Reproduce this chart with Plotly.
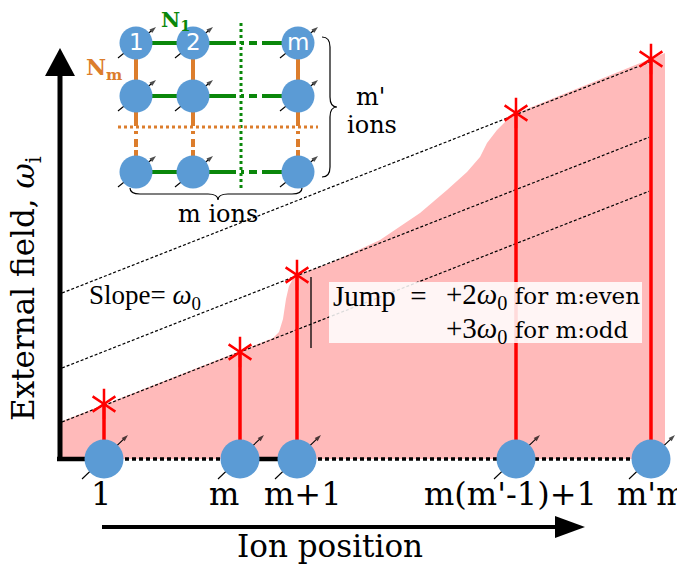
import plotly.graph_objects as go

# ---------------- data (chart units: x = ion position, y = external field) ----------------
ion_labels = ["1", "m", "m+1", "m(m'-1)+1", "m'm"]
ion_x = [104, 240, 297, 516, 651]
label_x = [101, 224, 303, 510, 651]
field = [55, 107, 184, 346, 400]

# envelope of the shaded region
edge_x = [60, 273, 279, 283, 286, 289, 293, 297, 330, 380, 420, 447, 467, 480, 487, 497, 508, 517, 651, 665]
edge_y = [37, 121, 127, 140, 160, 173, 180, 184, 196, 219, 246, 269, 287, 302, 316, 329, 340, 346, 400, 406]

# parallel guide lines with slope omega_0
slope_w0 = 0.393
guide_offsets = [37, 91, 166]
guide_x0 = 62
guide_x1 = [649, 649, 651]

# inset lattice
col_x = [136, 193, 298]
row_y = [416, 363, 287]
top_labels = ["1", "2", "m"]

BLUE = "#5b9bd5"
PINK = "#ffbaba"
RED = "#ff0000"
GREEN = "#0a870a"
ORANGE = "#dc7d2c"
SERIF = "DejaVu Serif"
CM = "Liberation Serif"

fig = go.Figure()

# shaded region
fig.add_trace(go.Scatter(x=[60] + edge_x + [665], y=[0] + edge_y + [0], fill="toself",
                         fillcolor=PINK, line=dict(width=0), mode="lines", hoverinfo="skip"))

# guide lines
for off, x1 in zip(guide_offsets, guide_x1):
    fig.add_trace(go.Scatter(x=[guide_x0, x1], y=[off, off + slope_w0 * (x1 - guide_x0)],
                             mode="lines", line=dict(color="black", width=1.2, dash="3px,2px")))

# axes lines
fig.add_trace(go.Scatter(x=[60, 60], y=[-2, 390], mode="lines", line=dict(color="black", width=5)))
fig.add_trace(go.Scatter(x=[57, ion_x[0], None, ion_x[1], ion_x[2]], y=[0, 0, None, 0, 0],
                         mode="lines", line=dict(color="black", width=4.5)))
fig.add_trace(go.Scatter(x=[ion_x[0], ion_x[1], None, ion_x[2], ion_x[4]], y=[0, 0, None, 0, 0],
                         mode="lines", line=dict(color="black", width=3.5, dash="4px,3px")))

# stems
sx, sy = [], []
for x, f in zip(ion_x, field):
    sx += [x, x, None]
    sy += [0, f, None]
fig.add_trace(go.Scatter(x=sx, y=sy, mode="lines", line=dict(color=RED, width=3.5)))


def spins(xs, ys, dxa, dya, dxb, dyb):
    ax_, ay_, sz = [], [], []
    for x, y in zip(xs, ys):
        ax_ += [x + dxa, x + dxb, None]
        ay_ += [y + dya, y + dyb, None]
        sz += [0, 7, 0]
    fig.add_trace(go.Scatter(x=ax_, y=ay_, mode="lines+markers", line=dict(color="black", width=1.1),
                             marker=dict(symbol="arrow", size=sz, color="black", angleref="previous",
                                         line=dict(width=0))))


# axis ions
spins(ion_x, [0] * len(ion_x), -22, -20, 24, 24)
fig.add_trace(go.Scatter(x=ion_x, y=[0] * len(ion_x), mode="markers",
                         marker=dict(size=39, color=BLUE, line=dict(width=0))))

# stars
for sym in ["y-up-open", "y-down-open"]:
    fig.add_trace(go.Scatter(x=ion_x, y=field, mode="markers",
                             marker=dict(symbol=sym, size=19, color=RED, line=dict(color=RED, width=2.5))))

# ---------------- inset lattice ----------------
fig.add_trace(go.Scatter(x=[241, 241], y=[436, 271], mode="lines",
                         line=dict(color=GREEN, width=3, dash="3px,3px")))
fig.add_trace(go.Scatter(x=[118, 318], y=[332, 332], mode="lines",
                         line=dict(color=ORANGE, width=3, dash="3px,3px")))

gx_s, gy_s, gx_d, gy_d = [], [], [], []
for y in row_y:
    gx_s += [col_x[0], 228, None, 263, col_x[2], None]
    gy_s += [y, y, None, y, y, None]
    gx_d += [228, 263, None]
    gy_d += [y, y, None]
fig.add_trace(go.Scatter(x=gx_s, y=gy_s, mode="lines", line=dict(color=GREEN, width=4)))
fig.add_trace(go.Scatter(x=gx_d, y=gy_d, mode="lines", line=dict(color=GREEN, width=4, dash="8px,5px,3px,5px")))

ox_s, oy_s, ox_d, oy_d = [], [], [], []
for x in col_x:
    ox_s += [x, x, None, x, x, None]
    oy_s += [row_y[0], 341, None, 309, row_y[2], None]
    ox_d += [x, x, None]
    oy_d += [341, 309, None]
fig.add_trace(go.Scatter(x=ox_s, y=oy_s, mode="lines", line=dict(color=ORANGE, width=4)))
fig.add_trace(go.Scatter(x=ox_d, y=oy_d, mode="lines", line=dict(color=ORANGE, width=4, dash="8px,5px,3px,5px")))

lx = [x for y in row_y for x in col_x]
ly = [y for y in row_y for x in col_x]
spins(lx, ly, -18, -15, 20, 16)
fig.add_trace(go.Scatter(x=lx, y=ly, mode="markers", marker=dict(size=33, color=BLUE, line=dict(width=0))))

annotations = []


def txt(x, y, s, size, color="black", family=SERIF, **kw):
    annotations.append(dict(x=x, y=y, xref="x", yref="y", text=s, showarrow=False,
                            font=dict(size=size, color=color, family=family), **kw))


for x, s in zip(col_x, top_labels):
    txt(x, row_y[0] + 1, s, 23, "white", "DejaVu Sans")

txt(175, 439, "<b>N<sub>1</sub></b>", 21, GREEN)
txt(104, 390, "<b>N<sub>m</sub></b>", 22, ORANGE)
txt(370, 362, "m'", 24)
txt(372, 334, "ions", 24)
txt(218, 245, "m ions", 24)

for x, s in zip(label_x, ion_labels):
    txt(x, -35, s, 32)

txt(330, -87, "Ion position", 31)
txt(25, 170, "External field, <i>ω</i><sub>i</sub>", 31, textangle=-90)

txt(145, 162, "Slope= <i>ω</i><sub>0</sub>", 27, family=CM)
txt(331, 163, "Jump  =", 29, family=CM, xanchor="left")
txt(444, 163, "<span style='font-family:Liberation Serif;font-size:29px'>+2<i>ω</i><sub>0</sub></span> for m:even", 23,
    xanchor="left")
txt(444, 129, "<span style='font-family:Liberation Serif;font-size:29px'>+3<i>ω</i><sub>0</sub></span> for m:odd", 23,
    xanchor="left")

shapes = [
    dict(type="path", path="M 45,383 L 75,383 L 60,411 Z", fillcolor="black", line=dict(width=0),
         xref="x", yref="y"),
    dict(type="line", x0=102, x1=560, y0=-68, y1=-68, line=dict(color="black", width=4), xref="x", yref="y"),
    dict(type="path", path="M 555,-57 L 585,-68 L 555,-79 Z", fillcolor="black", line=dict(width=0),
         xref="x", yref="y"),
    dict(type="path", xref="x", yref="y", line=dict(color="black", width=1.2),
         path="M 322,422 Q 330,422 330,412 L 330,362 Q 330,352 337,352 Q 330,352 330,342 L 330,292 Q 330,282 322,282"),
    dict(type="path", xref="x", yref="y", line=dict(color="black", width=1.2),
         path="M 130,271 Q 130,265 140,265 L 208,265 Q 218,265 218,259 Q 218,265 228,265 L 292,265 Q 302,265 302,271"),
    dict(type="rect", xref="x", yref="y", x0=329, x1=642, y0=116, y1=177, layer="above",
         fillcolor="rgba(255,255,255,0.86)", line=dict(width=0)),
    dict(type="line", xref="x", yref="y", x0=311, x1=311, y0=111, y1=182, line=dict(color="black", width=1.3)),
]

# the page body adds an 8px offset; shift the axis ranges to compensate
fig.update_layout(width=685, height=566, margin=dict(l=0, r=0, t=0, b=0),
                  paper_bgcolor="white", plot_bgcolor="white", showlegend=False,
                  xaxis=dict(range=[8, 693], visible=False, fixedrange=True),
                  yaxis=dict(range=[-115, 451], visible=False, fixedrange=True),
                  annotations=annotations, shapes=shapes)

fig.write_html("out.html")
